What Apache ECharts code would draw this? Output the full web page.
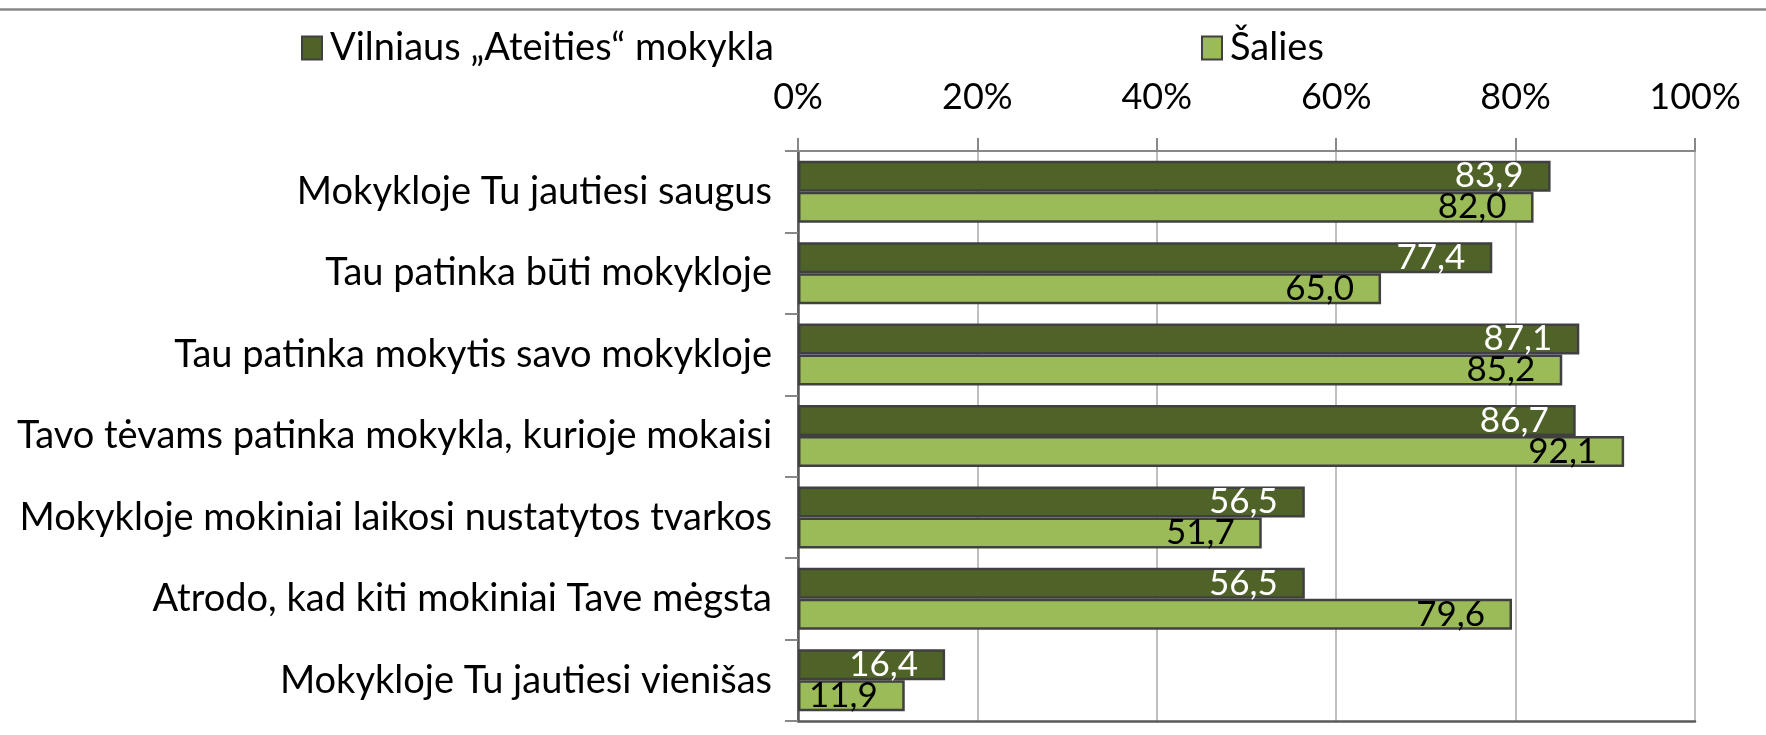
<!DOCTYPE html>
<html>
<head>
<meta charset="utf-8">
<script src="https://cdn.jsdelivr.net/npm/echarts@6/dist/echarts.min.js"></script>
<style>
  html, body { margin: 0; padding: 0; background: #fff; }
  #chart { width: 1766px; height: 735px; }
</style>
</head>
<body>
<div id="chart"></div>
<script>
// Survey statements (top to bottom)
const categories = [
  'Mokykloje Tu jautiesi saugus',
  'Tau patinka būti mokykloje',
  'Tau patinka mokytis savo mokykloje',
  'Tavo tėvams patinka mokykla, kurioje mokaisi',
  'Mokykloje mokiniai laikosi nustatytos tvarkos',
  'Atrodo, kad kiti mokiniai Tave mėgsta',
  'Mokykloje Tu jautiesi vienišas'
];
const seriesNames = ['Vilniaus \u201EAteities\u201C mokykla', 'Šalies'];
// Share of pupils agreeing, %
const schoolValues = [83.9, 77.4, 87.1, 86.7, 56.5, 56.5, 16.4];
const countryValues = [82.0, 65.0, 85.2, 92.1, 51.7, 79.6, 11.9];
const axisTicks = [0, 20, 40, 60, 80, 100];

const FONT = 'Lato';
const fmtValue = v => v.toFixed(1).replace('.', ',');

const chart = echarts.init(document.getElementById('chart'), null, { renderer: 'canvas' });

const barBorder = { borderColor: '#404040', borderWidth: 2.5 };
const legendBase = {
  icon: 'rect', itemWidth: 20, itemHeight: 23, itemGap: 0, padding: 0,
  textStyle: { fontFamily: FONT, fontSize: 38, color: '#000', padding: [0, 0, 0, 3] }
};

chart.setOption({
  animation: false,
  backgroundColor: '#ffffff',
  textStyle: { fontFamily: FONT, color: '#000' },
  graphic: [{
    type: 'line',
    shape: { x1: 0, y1: 9.5, x2: 1766, y2: 9.5 },
    style: { stroke: '#888888', lineWidth: 2.5 }
  }],
  legend: [
    Object.assign({ data: [seriesNames[0]], left: 301, top: 29 }, legendBase),
    Object.assign({ data: [seriesNames[1]], left: 1201, top: 29 }, legendBase)
  ],
  grid: { left: 798, right: 71, top: 151, bottom: 14, containLabel: false },
  xAxis: [
    {
      type: 'value', position: 'top', min: axisTicks[0], max: axisTicks[axisTicks.length - 1],
      interval: axisTicks[1] - axisTicks[0],
      axisLine: { show: true, lineStyle: { color: '#888888', width: 2 } },
      axisTick: { show: true, length: 13, lineStyle: { color: '#888888', width: 2 } },
      splitLine: { show: true, lineStyle: { color: '#BFBFBF', width: 2 } },
      axisLabel: { formatter: '{value}%', fontFamily: FONT, fontSize: 36, color: '#000', margin: 36 }
    },
    {
      type: 'value', position: 'bottom', min: axisTicks[0], max: axisTicks[axisTicks.length - 1],
      axisLine: { show: true, lineStyle: { color: '#595959', width: 2.5 } },
      axisTick: { show: false }, splitLine: { show: false }, axisLabel: { show: false }
    }
  ],
  yAxis: [
    {
      type: 'category', data: categories, inverse: true,
      axisLine: { show: true, lineStyle: { color: '#888888', width: 2 } },
      axisTick: { show: true, length: 13, lineStyle: { color: '#888888', width: 2 } },
      axisLabel: { fontFamily: FONT, fontSize: 38, color: '#000', margin: 26 }
    },
    {
      type: 'category', data: categories, inverse: true, position: 'right',
      axisLine: { show: true, lineStyle: { color: '#595959', width: 2.5 } },
      axisTick: { show: false }, axisLabel: { show: false }, splitLine: { show: false }
    }
  ],
  series: [
    {
      name: seriesNames[0], type: 'bar', data: schoolValues,
      barWidth: 31, barGap: '0%',
      itemStyle: Object.assign({ color: '#4F6228' }, barBorder),
      label: {
        show: true, position: 'insideRight', distance: 27,
        formatter: p => fmtValue(p.value),
        fontFamily: FONT, fontSize: 35, color: '#ffffff'
      }
    },
    {
      name: seriesNames[1], type: 'bar', data: countryValues,
      barWidth: 31, barGap: '0%',
      itemStyle: Object.assign({ color: '#9BBB59' }, barBorder),
      label: {
        show: true, position: 'insideRight', distance: 27,
        formatter: p => fmtValue(p.value),
        fontFamily: FONT, fontSize: 35, color: '#000000'
      }
    }
  ]
});
</script>
</body>
</html>
